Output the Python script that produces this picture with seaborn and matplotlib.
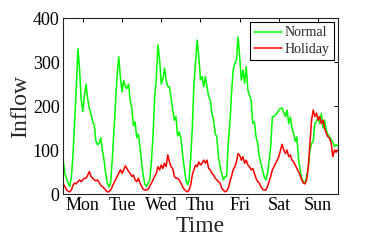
import matplotlib
matplotlib.use('Agg')
import matplotlib.pyplot as plt
import seaborn as sns
import pandas as pd
import numpy as np

sns.set_theme(style='white')
plt.rcParams['font.family'] = ['Liberation Serif', 'DejaVu Serif']
plt.rcParams['mathtext.fontset'] = 'stix'

# hourly inflow over one week (Mon 00:00 .. Mon 00:00)
normal = [
    77, 47, 35, 25, 17, 38, 90, 165, 240, 330, 285, 215, 188, 225, 250, 215, 195, 182, 165, 158, 120, 112, 115, 128,
    100, 77, 47, 25, 16, 25, 77, 140, 200, 270, 312, 265, 232, 258, 244, 240, 250, 212, 195, 155, 164, 128, 136, 108,
    70, 42, 22, 17, 25, 32, 75, 135, 220, 265, 339, 305, 250, 262, 286, 258, 244, 244, 218, 192, 168, 176, 132, 141,
    128, 92, 62, 35, 21, 30, 80, 150, 250, 300, 350, 312, 260, 267, 244, 267, 244, 221, 214, 184, 168, 138, 130, 85,
    62, 47, 32, 40, 40, 115, 160, 229, 282, 297, 304, 357, 312, 259, 282, 252, 290, 236, 225, 214, 161, 164, 130, 115,
    85, 70, 55, 39, 32, 47, 75, 108, 176, 176, 180, 185, 191, 195, 195, 185, 176, 191, 160, 175, 150, 138, 120, 130,
    80, 55, 35, 28, 25, 40, 60, 100, 115, 120, 160, 165, 176, 160, 183, 150, 168, 145, 135, 130, 123, 118, 108, 112,
    110,
]
holiday = [
    23, 17, 10, 6, 5, 9, 20, 25, 23, 28, 32, 28, 32, 36, 36, 43, 51, 40, 36, 32, 30, 32, 26, 20,
    17, 13, 9, 5, 5, 9, 17, 25, 32, 40, 47, 55, 47, 55, 64, 58, 51, 47, 40, 43, 32, 28, 36, 25,
    17, 11, 9, 9, 11, 18, 25, 32, 40, 47, 62, 55, 66, 58, 70, 62, 89, 73, 62, 58, 40, 36, 36, 32,
    25, 17, 11, 7, 5, 9, 20, 43, 55, 66, 62, 73, 66, 70, 77, 70, 77, 58, 55, 47, 43, 36, 32, 28,
    25, 13, 9, 5, 7, 13, 28, 40, 55, 62, 73, 92, 88, 77, 85, 70, 77, 66, 62, 55, 58, 47, 36, 28,
    25, 17, 11, 9, 9, 17, 28, 40, 55, 62, 70, 77, 85, 100, 113, 100, 92, 100, 85, 89, 77, 73, 66, 58,
    51, 43, 32, 25, 23, 32, 62, 115, 168, 191, 176, 184, 168, 176, 160, 168, 149, 138, 130, 127, 115, 85, 100, 95,
    100,
]
day_labels = ['Mon', 'Tue', 'Wed', 'Thu', 'Fri', 'Sat', 'Sun']

hours = np.arange(len(normal))
df = pd.DataFrame({
    'day': np.concatenate([hours, hours]) / 24.0,
    'inflow': normal + holiday,
    'series': ['Normal'] * len(normal) + ['Holiday'] * len(holiday),
})

fig = plt.figure(figsize=(3.74, 2.41), dpi=100)
ax = fig.add_axes([0.169, 0.195, 0.734, 0.730])

sns.lineplot(data=df, x='day', y='inflow', hue='series',
             hue_order=['Normal', 'Holiday'],
             palette={'Normal': '#00ff00', 'Holiday': '#ff0000'},
             linewidth=1.1, ax=ax, legend=False)

ax.set_xlim(0, 7)
ax.set_ylim(0, 400)
ax.set_xticks(np.arange(len(day_labels)) + 0.5)
ax.set_xticklabels(day_labels)
ax.set_yticks([0, 100, 200, 300, 400])
ax.tick_params(direction='in', length=3, width=0.7, top=True, right=True,
               labelsize=13, pad=2.5, colors='black')
for s in ax.spines.values():
    s.set_color('#222222')
    s.set_linewidth(0.8)

ax.set_xlabel('Time', fontsize=17, labelpad=1)
ax.set_ylabel('Inflow', fontsize=17, labelpad=1)

handles = [plt.Line2D([], [], color='#00ff00', lw=1.1),
           plt.Line2D([], [], color='#ff0000', lw=1.1)]
leg = ax.legend(handles, ['Normal', 'Holiday'], loc='upper right',
                fontsize=10, frameon=True, fancybox=False, framealpha=1,
                edgecolor='black', borderaxespad=0.3, handlelength=2.0,
                handletextpad=0.2, labelspacing=0.25, borderpad=0.3)
leg.get_frame().set_linewidth(0.8)

fig.savefig('out.png', dpi=100, facecolor='white')
